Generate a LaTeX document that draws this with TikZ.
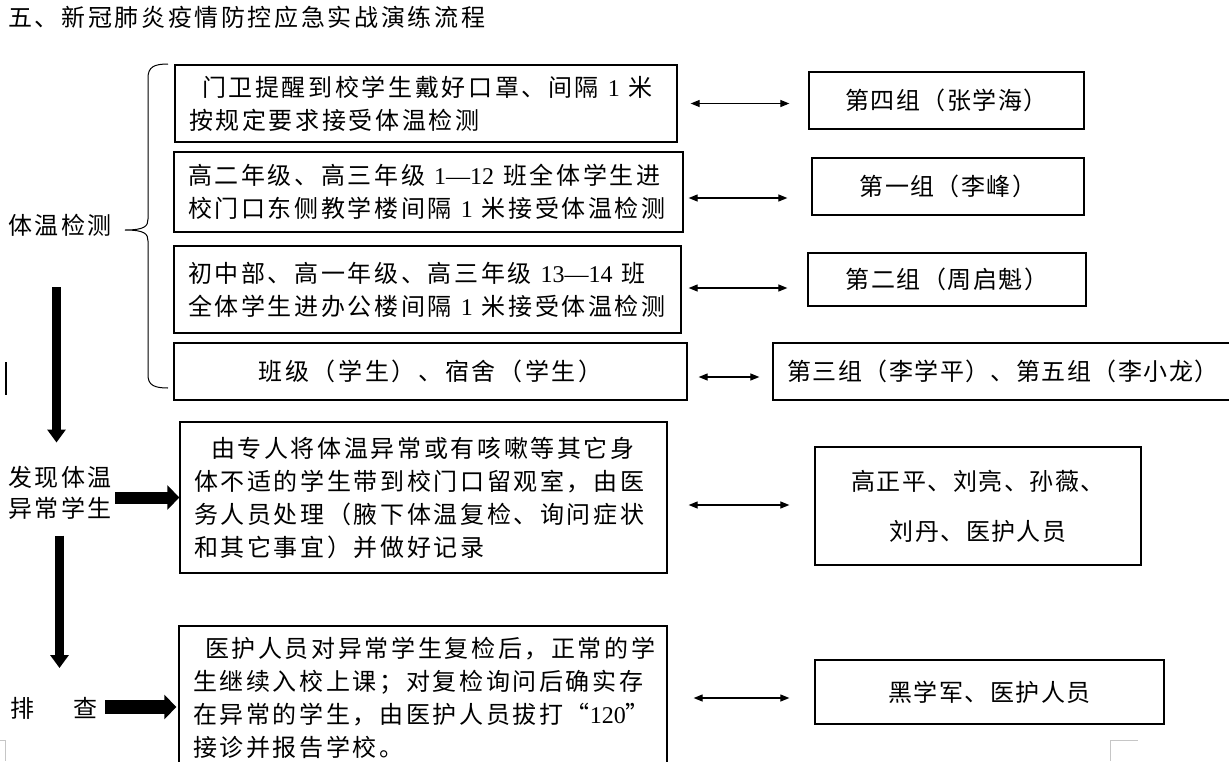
\documentclass[tikz,border=0pt]{standalone}
\usepackage{fontspec}
\setmainfont{Noto Sans CJK SC}[LetterSpace=11]
\newfontfamily\cjkB{Noto Sans CJK SC}[LetterSpace=6]
\newfontfamily\lat{Liberation Serif}
\newcommand\gp{\nobreak\hspace{9pt}\nobreak}
\usetikzlibrary{arrows.meta,calc}
\tikzset{
  txt/.style={font=\fontsize{24}{33}\selectfont, inner sep=0pt},
  lbox/.style={draw, line width=1.3pt, font=\fontsize{24}{33}\selectfont, align=left, inner xsep=14pt, inner ysep=0pt},
  rbox/.style={draw, line width=1.3pt, font=\cjkB\fontsize{24}{33}\selectfont, align=center, inner sep=0pt},
  dbl/.style={{Triangle[length=9pt,width=7pt]}-{Triangle[length=9pt,width=7pt]}, line width=1.2pt},
  fatv/.style={-{Triangle[length=13pt,width=18pt]}, line width=9pt},
  fath/.style={-{Triangle[length=12pt,width=24pt]}, line width=12pt},
  fath3/.style={-{Triangle[length=12pt,width=24pt]}, line width=14pt},
  pgmark/.style={draw=gray!45, line width=1pt}
}
\begin{document}
\begin{tikzpicture}[x=1pt,y=-1pt]
\useasboundingbox (0,0) rectangle (1229,761);
\clip (0,0) rectangle (1229,761);

% title
\node[txt, anchor=west] (title) at (8,17) {五、新冠肺炎疫情防控应急实战演练流程};

% left labels
\node[txt] (T1) at (60,225) {体温检测};
\node[txt, align=left, font=\fontsize{24}{31}\selectfont] (T2) at (60,492.5) {发现体温\\异常学生};
\node[txt] (T3) at (54,708) {排\hspace{40pt}查};

% left boxes
\node[lbox, text width=474pt, minimum height=77pt] (A1) at (426,103.5)
  {\hspace{13pt}门卫提醒到校学生戴好口罩、间隔\gp{\lat 1}\gp 米\\按规定要求接受体温检测};
\node[lbox, text width=481pt, minimum height=80pt] (A2) at (428.5,192)
  {高二年级、高三年级\gp{\lat 1—12}\gp 班全体学生进\\校门口东侧教学楼间隔\gp{\lat 1}\gp 米接受体温检测};
\node[lbox, text width=479pt, minimum height=87pt] (A3) at (427.5,289.5)
  {初中部、高一年级、高三年级\gp{\lat 13—14}\gp 班\\全体学生进办公楼间隔\gp{\lat 1}\gp 米接受体温检测};
\node[lbox, align=center, text width=485pt, minimum height=57pt] (A4) at (430.5,371.5)
  {班级（学生）、宿舍（学生）};
\node[lbox, text width=459pt, minimum height=151pt] (C1) at (423.5,497.5)
  {\hspace{17pt}由专人将体温异常或有咳嗽等其它身\\体不适的学生带到校门口留观室，由医\\务人员处理（腋下体温复检、询问症状\\和其它事宜）并做好记录};
\node[lbox, text width=460pt, minimum height=144pt] (C2) at (423,698)
  {\hspace{12pt}医护人员对异常学生复检后，正常的学\\生继续入校上课；对复检询问后确实存\\在异常的学生，由医护人员拔打“{\lat 120}”\\接诊并报告学校。};

% right boxes
\node[rbox, minimum width=275pt, minimum height=57pt] (B1) at (946.5,100.5) {第四组（张学海）};
\node[rbox, minimum width=272pt, minimum height=57pt] (B2) at (948,186.5) {第一组（李峰）};
\node[rbox, minimum width=278pt, minimum height=53pt] (B3) at (947,279.5) {第二组（周启魁）};
\node[rbox, minimum width=460pt, minimum height=57pt] (B4) at (1003,371.5) {第三组（李学平）、第五组（李小龙）};
\node[rbox, minimum width=326pt, minimum height=118pt, font=\cjkB\fontsize{24}{50}\selectfont] (B5) at (978,506)
  {高正平、刘亮、孙薇、\\刘丹、医护人员};
\node[rbox, minimum width=349pt, minimum height=64pt] (B6) at (989.5,692) {黑学军、医护人员};

% double arrows
\draw[dbl] ($(A1.east)+(13,0)$) -- ($(B1.west|-A1.east)+(-19,0)$);
\draw[dbl] ($(A2.east)+(5,6)$) -- ($(B2.west|-A2.east)+(-24,6)$);
\draw[dbl] ($(A3.east)+(7,-1.5)$) -- ($(B3.west|-A3.east)+(-20,-1.5)$);
\draw[dbl] ($(A4.east)+(11,5.5)$) -- ($(B4.west|-A4.east)+(-13,5.5)$);
\draw[dbl] ($(C1.east)+(21,7.5)$) -- ($(B5.west|-C1.east)+(-25,7.5)$);
\draw[dbl] ($(C2.east)+(26,0)$) -- ($(B6.west|-C2.east)+(-25,0)$);

% brace
\draw[line width=1pt] (168,64) .. controls (154,64) and (148,67) .. (148,78) -- (148,219)
  .. controls (148,226) and (145,230) .. (125,230)
  .. controls (145,230) and (148,234) .. (148,241) -- (148,375)
  .. controls (148,385) and (154,388) .. (168,388);

% fat arrows
\draw[fatv] ($(T1.center)+(-3.5,62)$) -- ($(T2.center)+(-3.5,-50)$);
\draw[fath] ($(T2.center)+(55,5)$) -- (C1.west);
\draw[fatv] ($(T2.center)+(-0.5,43)$) -- ($(T3.center)+(5.5,-40)$);
\draw[fath3] ($(T3.center)+(51,-1)$) -- ($(C2.west|-T3.center)+(-2,-1)$);

% cursor and page marks
\draw[line width=2pt] (6,362) -- (6,395);
\draw[pgmark] (0,740) -- (5,740) -- (5,761);
\draw[pgmark] (1110,761) -- (1110,740) -- (1138,740);
\end{tikzpicture}
\end{document}
